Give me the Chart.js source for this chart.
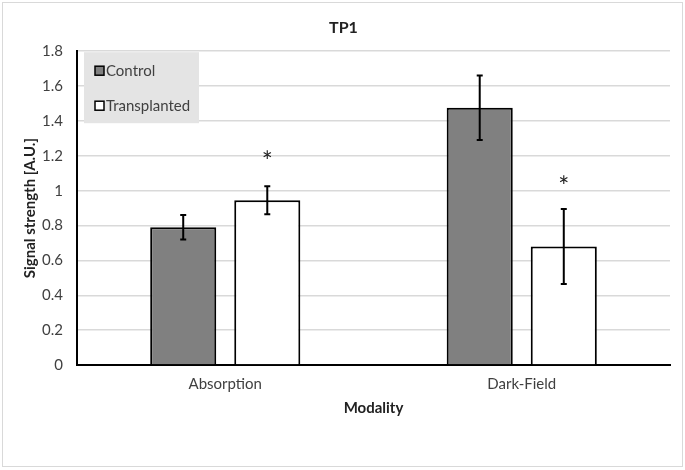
<!DOCTYPE html>
<html>
<head>
<meta charset="utf-8">
<script src="https://cdn.jsdelivr.net/npm/chart.js@4/dist/chart.umd.min.js"></script>
<style>
  html, body { margin: 0; padding: 0; background: #fff; }
  #wrap { width: 685px; height: 470px; position: relative; }
</style>
</head>
<body>
<div id="wrap"><canvas id="c"></canvas></div>
<script>
// data
const modalities = ["Absorption", "Dark-Field"];
const controlValues = [0.79, 1.475];
const controlErr = [0.07, 0.185];
const transplantedValues = [0.945, 0.68];
const transplantedErr = [0.08, 0.215];
// asterisk height (data units) above the transplanted bars
const starLevels = [1.19, 1.045];

const FONT = "Lato, 'Liberation Sans', sans-serif";
const TEXT = "#404040";

// draw error bars with the y scale
const errorBars = {
  id: "errorBars",
  afterDatasetsDraw(chart) {
    const ctx = chart.ctx;
    const y = chart.scales.y;
    const errs = [controlErr, transplantedErr];
    ctx.save();
    ctx.strokeStyle = "#000";
    ctx.lineWidth = 2;
    chart.data.datasets.forEach((ds, di) => {
      chart.getDatasetMeta(di).data.forEach((bar, i) => {
        const v = ds.data[i];
        const yTop = y.getPixelForValue(v + errs[di][i]);
        const yBot = y.getPixelForValue(v - errs[di][i]);
        const x = bar.x;
        ctx.beginPath();
        ctx.moveTo(x, yTop); ctx.lineTo(x, yBot);
        ctx.moveTo(x - 3, yTop); ctx.lineTo(x + 3, yTop);
        ctx.moveTo(x - 3, yBot); ctx.lineTo(x + 3, yBot);
        ctx.stroke();
      });
    });
    // significance stars
    ctx.fillStyle = "#222";
    ctx.font = "26px " + FONT;
    ctx.textAlign = "center";
    ctx.textBaseline = "middle";
    chart.getDatasetMeta(1).data.forEach((bar, i) => {
      ctx.fillText("*", bar.x, y.getPixelForValue(starLevels[i]) + 5);
    });
    ctx.restore();
  }
};

// legend box inside plot area, top-left
const boxLegend = {
  id: "boxLegend",
  afterDraw(chart) {
    const ctx = chart.ctx;
    const a = chart.chartArea;
    const x0 = a.left + 7, y0 = a.top + 1;
    ctx.save();
    ctx.fillStyle = "#e4e4e4";
    ctx.fillRect(x0, y0, 115, 71);
    const items = [["Control", "#808080", 19], ["Transplanted", "#ffffff", 54]];
    ctx.font = "15px " + FONT;
    ctx.textBaseline = "middle";
    ctx.textAlign = "left";
    items.forEach(([label, col, dy]) => {
      ctx.fillStyle = col;
      ctx.fillRect(x0 + 11, y0 + dy - 5, 9, 9);
      ctx.strokeStyle = "#000";
      ctx.lineWidth = 1.5;
      ctx.strokeRect(x0 + 11, y0 + dy - 5, 9, 9);
      ctx.fillStyle = TEXT;
      ctx.fillText(label, x0 + 22, y0 + dy);
    });
    ctx.restore();
  }
};

// white background and thin outer frame
const frame = {
  id: "frame",
  beforeDraw(chart) {
    const ctx = chart.ctx;
    ctx.save();
    ctx.fillStyle = "#fff";
    ctx.fillRect(0, 0, chart.width, chart.height);
    ctx.strokeStyle = "#d9d9d9";
    ctx.lineWidth = 1;
    ctx.strokeRect(2.5, 2.5, chart.width - 5, chart.height - 6);
    ctx.restore();
  }
};

new Chart(document.getElementById("c"), {
  type: "bar",
  data: {
    labels: modalities,
    datasets: [
      {
        label: "Control",
        data: controlValues,
        backgroundColor: "#808080",
        borderColor: "#000",
        borderWidth: 2,
        borderSkipped: "bottom"
      },
      {
        label: "Transplanted",
        data: transplantedValues,
        backgroundColor: "#ffffff",
        borderColor: "#000",
        borderWidth: 2,
        borderSkipped: "bottom"
      }
    ]
  },
  options: {
    responsive: true,
    maintainAspectRatio: false,
    animation: false,
    categoryPercentage: 0.567,
    barPercentage: 0.786,
    layout: { padding: { left: 17, right: 15, top: 8, bottom: 54 } },
    plugins: {
      legend: { display: false },
      tooltip: { enabled: false },
      title: {
        display: true,
        text: "TP1",
        color: "#222",
        font: { family: FONT, size: 16, weight: "bold" },
        padding: { top: 10, bottom: 14 }
      }
    },
    scales: {
      x: {
        grid: { display: false, drawTicks: false },
        border: { color: "#000", width: 2 },
        ticks: { color: TEXT, font: { family: FONT, size: 15, lineHeight: 1 }, padding: 12 },
        title: {
          display: true,
          text: "Modality",
          color: "#222",
          font: { family: FONT, size: 15, weight: "bold", lineHeight: 1 },
          padding: { top: -3, bottom: 0 }
        }
      },
      y: {
        min: 0,
        max: 1.8,
        ticks: {
          stepSize: 0.2,
          color: TEXT,
          font: { family: FONT, size: 15 },
          padding: 14,
          callback: v => Math.round(v * 10) / 10
        },
        grid: { color: "#d9d9d9", lineWidth: 1.5, drawTicks: false },
        border: { color: "#000", width: 2 },
        title: {
          display: true,
          text: "Signal strength [A.U.]",
          color: "#222",
          font: { family: FONT, size: 15, weight: "bold" },
          padding: { bottom: 2 }
        },
        afterFit: s => { s.width = 60; }
      }
    }
  },
  plugins: [frame, errorBars, boxLegend]
});
</script>
</body>
</html>
